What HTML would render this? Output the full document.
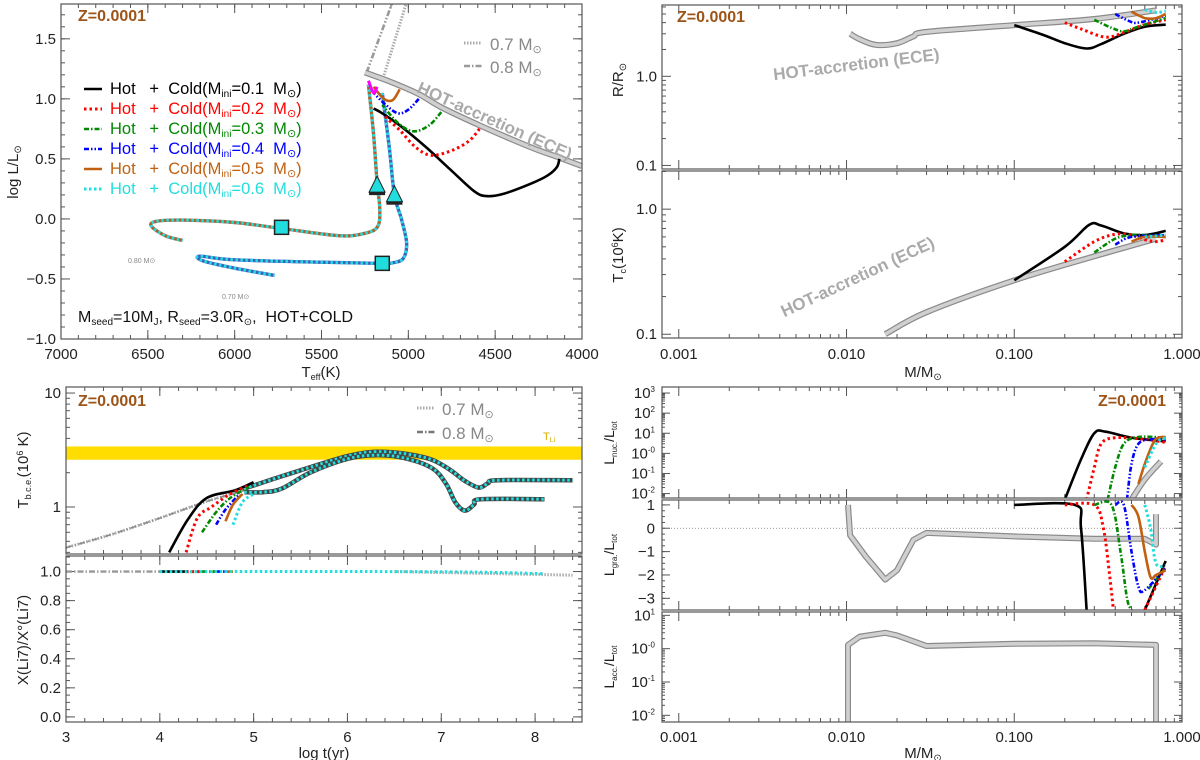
<!DOCTYPE html>
<html><head><meta charset="utf-8">
<style>
html,body{margin:0;padding:0;background:#fff;}
svg{display:block;font-family:"Liberation Sans",sans-serif;}
</style></head>
<body>
<svg id="fig" width="1200" height="760" viewBox="0 0 1200 760" xmlns="http://www.w3.org/2000/svg"></svg>
<script>
// ---------------- DATA ----------------
const massLabels = ["0.1","0.2","0.3","0.4","0.5","0.6"];
// HR diagram (Teff, logL)
const hrHot   = [[5250,1.22],[5100,1.14],[4940,1.04],[4810,0.93],[4590,0.78],[4300,0.6],[4130,0.51],[4000,0.44]];
const hrBlack = [[4130,0.5],[4145,0.43],[4200,0.36],[4300,0.29],[4450,0.21],[4550,0.19],[4620,0.23],[4750,0.4],[4900,0.6],[5050,0.78],[5150,0.88],[5200,0.92]];
const hrRed   = [[4590,0.75],[4650,0.65],[4750,0.57],[4870,0.53],[4960,0.6],[5050,0.74],[5140,0.86]];
const hrGreen = [[4810,0.89],[4880,0.78],[4970,0.73],[5060,0.8],[5150,0.95]];
const hrBlue  = [[4940,1.0],[5000,0.91],[5060,0.88],[5130,0.95],[5200,1.05]];
const hrOrange= [[5050,1.08],[5090,0.99],[5140,1.0],[5200,1.1]];
const hrCyan  = [[5230,1.15],[5200,1.05],[5180,1.1]];
const hrTrack8 = [[5230,1.12],[5200,0.7],[5180,0.3],[5165,0.1],[5175,-0.06],[5250,-0.12],[5400,-0.14],[5730,-0.08],[6000,-0.03],[6300,-0.01],[6450,-0.02],[6480,-0.06],[6400,-0.14],[6300,-0.18]];
const hrTrack7 = [[5150,1.05],[5110,0.6],[5080,0.2],[5040,0.0],[5010,-0.2],[5030,-0.33],[5090,-0.365],[5150,-0.37],[5500,-0.36],[6000,-0.34],[6200,-0.31],[6180,-0.35],[6000,-0.41],[5770,-0.47]];
const hrGray8 = [[5240,1.22],[5080,1.85]];
const hrGray7 = [[5150,1.15],[5000,1.85]];
const hrTriangles = [[5180,0.24],[5080,0.16]];
const hrSquares = [[5730,-0.07],[5150,-0.37]];
// Radius vs mass
const rHot   = [[0.0105,3.0],[0.012,2.6],[0.015,2.25],[0.02,2.35],[0.025,2.8],[0.03,3.15],[0.1,3.75],[0.3,4.4],[0.7,5.5]];
const rBlack = [[0.1,3.75],[0.15,2.9],[0.2,2.35],[0.27,2.05],[0.33,2.3],[0.45,3.0],[0.6,3.6],[0.8,3.8]];
const rRed   = [[0.2,4.0],[0.25,3.4],[0.35,2.75],[0.45,3.1],[0.6,3.8],[0.8,4.3]];
const rGreen = [[0.3,4.3],[0.38,3.5],[0.45,3.2],[0.55,3.6],[0.8,4.5]];
const rBlue  = [[0.4,5.0],[0.48,4.2],[0.55,4.0],[0.8,4.8]];
const rOrange= [[0.5,5.3],[0.6,4.5],[0.7,4.5],[0.8,5.0]];
const rCyan  = [[0.6,5.6],[0.7,5.2],[0.8,5.4]];
// Central temperature vs mass
const tcHot   = [[0.017,0.1],[0.03,0.15],[0.1,0.27],[0.3,0.42],[0.7,0.58]];
const tcBlack = [[0.1,0.27],[0.2,0.5],[0.28,0.75],[0.33,0.74],[0.45,0.64],[0.6,0.62],[0.8,0.67]];
const tcRed   = [[0.2,0.38],[0.3,0.55],[0.4,0.63],[0.5,0.62],[0.6,0.57],[0.7,0.55],[0.8,0.57]];
const tcGreen = [[0.3,0.45],[0.4,0.58],[0.5,0.62],[0.6,0.62],[0.8,0.6]];
const tcBlue  = [[0.4,0.52],[0.5,0.6],[0.8,0.62]];
const tcOrange= [[0.5,0.55],[0.6,0.6],[0.8,0.6]];
const tcCyan  = [[0.6,0.6],[0.8,0.62]];
// Tbce vs log t
const tbGray  = [[3.0,0.44],[3.5,0.58],[4.0,0.8],[4.5,1.12],[4.9,1.4]];
const tbBlack = [[4.1,0.4],[4.3,0.78],[4.5,1.2],[4.8,1.4],[5.0,1.65]];
const tbRed   = [[4.28,0.4],[4.4,0.8],[4.55,1.0],[4.75,1.3],[4.95,1.55]];
const tbGreen = [[4.45,0.6],[4.6,0.9],[4.75,1.2],[4.95,1.5]];
const tbBlue  = [[4.6,0.7],[4.7,0.95],[4.85,1.3]];
const tbOrange= [[4.7,0.75],[4.78,1.05],[4.88,1.3]];
const tbCyan  = [[4.78,0.7],[4.88,1.1],[5.0,1.3]];
const tbTrackA= [[4.9,1.45],[5.2,1.75],[5.5,2.1],[6.0,2.8],[6.3,3.05],[6.6,2.95],[6.9,2.6],[7.1,2.1],[7.25,1.7],[7.4,1.48],[7.5,1.62],[7.6,1.72],[8.4,1.72]];
const tbTrackB= [[4.9,1.35],[5.1,1.35],[5.3,1.45],[5.6,2.0],[6.0,2.65],[6.3,2.85],[6.6,2.7],[6.9,2.2],[7.05,1.6],[7.15,1.1],[7.25,0.93],[7.35,1.05],[7.42,1.17],[8.1,1.17]];
const liBand = [2.6,3.4];
// Lithium
const liGray = [[3.0,1.0],[4.0,1.0]];
const liAll  = [[4.0,1.0],[6.5,1.0],[7.5,0.995],[8.1,0.985]];
const liTail = [[6.5,1.0],[8.4,0.975]];
// Lnuc / Ltot
const lnBlack = [[0.2,0.005],[0.25,0.5],[0.3,10],[0.35,12],[0.5,6],[0.8,4]];
const lnRed   = [[0.27,0.005],[0.3,0.2],[0.33,3],[0.4,6],[0.6,5],[0.8,3.5]];
const lnGreen = [[0.36,0.005],[0.4,0.2],[0.45,3],[0.55,6.5],[0.8,6]];
const lnBlue  = [[0.47,0.005],[0.5,0.3],[0.55,3],[0.65,5],[0.8,5]];
const lnOrange= [[0.55,0.03],[0.6,0.3],[0.67,3],[0.72,6],[0.8,6.5]];
const lnCyan  = [[0.6,0.2],[0.7,3],[0.8,6]];
const lnGray  = [[0.5,0.005],[0.6,0.05],[0.75,0.4]];
// Lgra / Ltot
const lgGray  = [[0.0102,1.0],[0.0105,-0.3],[0.013,-1.2],[0.017,-2.2],[0.02,-1.8],[0.025,-0.5],[0.03,-0.2],[0.1,-0.35],[0.3,-0.45],[0.6,-0.45],[0.7,-0.7],[0.7,0.6]];
const lgBlack = [[0.1,1],[0.23,1],[0.25,0],[0.27,-3.5]];
const lgBlack2= [[0.6,-3.5],[0.8,-1.4]];
const lgRed   = [[0.2,1],[0.3,1],[0.34,0],[0.37,-2],[0.39,-3.5]];
const lgRed2  = [[0.6,-3.5],[0.8,-1.6]];
const lgGreen = [[0.3,1],[0.38,1],[0.43,-1],[0.47,-3],[0.5,-3.5]];
const lgGreen2= [[0.63,-2.6],[0.8,-1.7]];
const lgBlue  = [[0.4,1],[0.45,1],[0.5,-1],[0.55,-2.5],[0.6,-2.65],[0.8,-1.7]];
const lgOrange= [[0.5,1],[0.55,0.5],[0.6,-1],[0.65,-2.1],[0.7,-2],[0.8,-1.8]];
const lgCyan  = [[0.6,1],[0.65,0],[0.7,-1.5],[0.8,-1.6]];
// Lacc / Ltot
const laGray = [[0.0102,0.005],[0.0102,1.3],[0.012,2.3],[0.017,3.0],[0.02,2.5],[0.03,1.2],[0.1,1.4],[0.3,1.45],[0.7,1.3],[0.7,0.005]];

// ---------------- DRAWING ----------------
const NS="http://www.w3.org/2000/svg";
const svg=document.getElementById('fig');
function el(tag,attrs,parent){const e=document.createElementNS(NS,tag);for(const k in attrs)e.setAttribute(k,attrs[k]);(parent||svg).appendChild(e);return e;}
const L10=Math.log10;
function panel(x0,x1,y0,y1,xmin,xmax,ymin,ymax,xlog,ylog){
  const p={x0,x1,y0,y1};
  p.sx=v=>{const a=xlog?L10(v):v;return x0+(a-xmin)/(xmax-xmin)*(x1-x0);};
  p.sy=v=>{const a=ylog?L10(Math.max(v,1e-9)):v;return y1-(a-ymin)/(ymax-ymin)*(y1-y0);};
  return p;
}
const STY={
 black:{stroke:'#000',w:2.6,d:''},
 red:{stroke:'#f00',w:3,d:'2.5,3'},
 green:{stroke:'#080',w:2.6,d:'5,2,1.5,2'},
 blue:{stroke:'#00f',w:2.6,d:'5,2,1.5,2,1.5,2'},
 orange:{stroke:'#c06010',w:2.6,d:''},
 cyan:{stroke:'#2dd',w:3,d:'2.5,2.5'}
};
function pathD(P,smooth){
  if(!smooth||P.length<3)return P.map((q,i)=>(i?'L':'M')+q[0].toFixed(1)+','+q[1].toFixed(1)).join(' ');
  let d='M'+P[0][0].toFixed(1)+','+P[0][1].toFixed(1);
  for(let i=0;i<P.length-1;i++){
    const p0=P[Math.max(i-1,0)],p1=P[i],p2=P[i+1],p3=P[Math.min(i+2,P.length-1)];
    const c1=[p1[0]+(p2[0]-p0[0])/6,p1[1]+(p2[1]-p0[1])/6];
    const c2=[p2[0]-(p3[0]-p1[0])/6,p2[1]-(p3[1]-p1[1])/6];
    d+=' C'+c1[0].toFixed(1)+','+c1[1].toFixed(1)+' '+c2[0].toFixed(1)+','+c2[1].toFixed(1)+' '+p2[0].toFixed(1)+','+p2[1].toFixed(1);
  }
  return d;
}
function line(p,pts,sty,name,g,smooth){
  const P=pts.map(q=>[p.sx(q[0]),p.sy(q[1])]);
  const d=pathD(P,smooth!==false);
  const e=el('path',{d,fill:'none',stroke:sty.stroke,'stroke-width':sty.w,'stroke-dasharray':sty.d||'none','stroke-linejoin':'round','clip-path':'url(#'+p.clip+')'},g);
  
  
  return e;
}
function band(p,pts,name,g,smooth){
  line(p,pts,{stroke:'#8a8a8a',w:6,d:''},name+'-edge',g,smooth);
  line(p,pts,{stroke:'#d0d0d0',w:3.6,d:''},name,g,smooth);
}
let clipN=0;
function frame(p,name){
  const g=el('g',{});
  
  
  const defs=el('defs',{},g);
  const cp=el('clipPath',{id:'c'+(++clipN)},defs);
  el('rect',{x:p.x0,y:p.y0,width:p.x1-p.x0,height:p.y1-p.y0},cp);
  p.clip='c'+clipN;p.g=g;
  return g;
}
function box(p){el('rect',{x:p.x0,y:p.y0,width:p.x1-p.x0,height:p.y1-p.y0,fill:'none',stroke:'#555','stroke-width':1.2},p.g);}
function ticksX(p,vals,len){for(const v of vals){const x=p.sx(v);if(x<p.x0-0.5||x>p.x1+0.5)continue;
  el('line',{x1:x,x2:x,y1:p.y1,y2:p.y1-len,stroke:'#555','stroke-width':1},p.g);
  el('line',{x1:x,x2:x,y1:p.y0,y2:p.y0+len,stroke:'#555','stroke-width':1},p.g);}}
function ticksY(p,vals,len){for(const v of vals){const y=p.sy(v);if(y<p.y0-0.5||y>p.y1+0.5)continue;
  el('line',{y1:y,y2:y,x1:p.x0,x2:p.x0+len,stroke:'#555','stroke-width':1},p.g);
  el('line',{y1:y,y2:y,x1:p.x1,x2:p.x1-len,stroke:'#555','stroke-width':1},p.g);}}
function range(a,b,s){const r=[];for(let v=a;v<=b+1e-9;v+=s)r.push(+v.toFixed(6));return r;}
function logMinor(a,b){const r=[];for(let k=a;k<=b;k++)for(let m=2;m<=9;m++)r.push(m*Math.pow(10,k));return r;}
function logMajor(a,b){const r=[];for(let k=a;k<=b;k++)r.push(Math.pow(10,k));return r;}
function txt(x,y,s,opt,name){
  const e=el('text',Object.assign({x,y,'font-size':15,fill:'#222'},opt||{}),(opt&&opt.g)||svg);
  e.removeAttribute('g');
  e.innerHTML=s;
  
  
  return e;
}
const SUN='⊙';
const ZCOL='#9c5418';

// ===== Panel 1: HR diagram =====
const p1=panel(61,582,4,339,7000,4000,-1.0,1.79,false,false);
frame(p1,'hr-diagram-panel');
ticksX(p1,range(4000,7000,100),4);ticksX(p1,range(4000,7000,500),9);
ticksY(p1,range(-1,1.7,0.1),4);ticksY(p1,range(-1,1.5,0.5),9);
[7000,6500,6000,5500,5000,4500,4000].forEach(v=>txt(p1.sx(v),359,v,{'text-anchor':'middle',g:p1.g},'x-tick-label'));
[[-1,'−1.0'],[-0.5,'−0.5'],[0,'0.0'],[0.5,'0.5'],[1,'1.0'],[1.5,'1.5']].forEach(a=>txt(56,p1.sy(a[0])+5,a[1],{'text-anchor':'end',g:p1.g},'y-tick-label'));
txt(321,377,'T<tspan font-size="9" dy="3">eff</tspan><tspan dy="-3">(K)</tspan>',{'text-anchor':'middle',g:p1.g},'x-axis-title');
txt(18,172,'log L/L<tspan font-size="10" dy="3">'+SUN+'</tspan>',{'text-anchor':'middle',transform:'rotate(-90 18 172)',g:p1.g},'y-axis-title');
line(p1,hrGray8,{stroke:'#999',w:2.6,d:'6,2,1.5,2,1.5,2'},'track-0.8-gray',p1.g);
line(p1,hrGray7,{stroke:'#aaa',w:3,d:'1.5,1.5'},'track-0.7-gray',p1.g);
band(p1,hrHot,'hot-accretion-line',p1.g);
line(p1,hrTrack8,{stroke:'#b06030',w:3.4,d:''},'track-0.8-base',p1.g);
line(p1,hrTrack8,{stroke:'#2dd',w:3,d:'2.5,2.5'},'track-0.8',p1.g);
line(p1,hrTrack7,{stroke:'#4060c0',w:3.4,d:''},'track-0.7-base',p1.g);
line(p1,hrTrack7,{stroke:'#2dd',w:3,d:'2.5,2.5'},'track-0.7',p1.g);
line(p1,hrBlack,STY.black,'hr-0.1',p1.g);
line(p1,hrRed,STY.red,'hr-0.2',p1.g);
line(p1,hrGreen,STY.green,'hr-0.3',p1.g);
line(p1,hrBlue,STY.blue,'hr-0.4',p1.g);
line(p1,hrOrange,STY.orange,'hr-0.5',p1.g);
line(p1,hrCyan,{stroke:'#f0f',w:3,d:''},'hr-0.6',p1.g);
hrTriangles.forEach(q=>{const x=p1.sx(q[0]),y=p1.sy(q[1]);
 el('rect',{x:x-8,y:y+1,width:16,height:4,fill:'#222'},p1.g);
 const t=el('polygon',{points:`${x},${y-14} ${x-8},${y+2} ${x+8},${y+2}`,fill:'#2dd',stroke:'#222','stroke-width':1},p1.g);
 });
hrSquares.forEach(q=>{const x=p1.sx(q[0]),y=p1.sy(q[1]);
 const s=el('rect',{x:x-7,y:y-7,width:14,height:14,fill:'#2dd',stroke:'#222','stroke-width':1.5},p1.g);
 });
box(p1);
txt(78,21,'Z=0.0001',{fill:ZCOL,'font-weight':'bold','font-size':16,g:p1.g},'z-label');
const legCols=['#000','#f00','#080','#00f','#c06010','#2dd'];
const legSty=[STY.black,STY.red,STY.green,STY.blue,STY.orange,STY.cyan];
massLabels.forEach((m,i)=>{const y=94+i*20;
 const ln=el('line',{x1:84,x2:102,y1:y-5,y2:y-5,stroke:legSty[i].stroke,'stroke-width':legSty[i].w,'stroke-dasharray':legSty[i].d||'none'},p1.g);
 
 txt(110,y,'Hot&#160;&#160;&#160;+&#160;&#160;Cold(M<tspan font-size="10" dy="3">ini</tspan><tspan dy="-3">='+m+'&#160;&#160;M</tspan><tspan font-size="11" dy="3">'+SUN+'</tspan><tspan dy="-3">)</tspan>',{fill:legCols[i],'font-size':16.5,g:p1.g},'legend-entry');});
el('line',{x1:464,x2:482,y1:43,y2:43,stroke:'#aaa','stroke-width':3,'stroke-dasharray':'1.5,1.5'},p1.g);
el('line',{x1:464,x2:482,y1:66,y2:66,stroke:'#999','stroke-width':2.6,'stroke-dasharray':'6,2,1.5,2'},p1.g);
txt(490,50,'0.7 M<tspan font-size="11" dy="3">'+SUN+'</tspan>',{fill:'#888','font-size':17,g:p1.g},'legend-0.7');
txt(490,73,'0.8 M<tspan font-size="11" dy="3">'+SUN+'</tspan>',{fill:'#888','font-size':17,g:p1.g},'legend-0.8');
txt(416,92,'HOT-accretion (ECE)',{fill:'#aaa','font-weight':'bold','font-size':17,transform:'rotate(24 416 92)',g:p1.g},'hot-accretion-label');
txt(128,263,'0.80 M'+SUN,{fill:'#888','font-size':7,g:p1.g},'label-0.80');
txt(222,299,'0.70 M'+SUN,{fill:'#888','font-size':7,g:p1.g},'label-0.70');
txt(78,322,'M<tspan font-size="10" dy="3">seed</tspan><tspan dy="-3">=10M</tspan><tspan font-size="10" dy="3">J</tspan><tspan dy="-3">, R</tspan><tspan font-size="10" dy="3">seed</tspan><tspan dy="-3">=3.0R</tspan><tspan font-size="10" dy="3">'+SUN+'</tspan><tspan dy="-3">,&#160;&#160;HOT+COLD</tspan>',{fill:'#111','font-size':16,g:p1.g},'seed-params-label');

// ===== Right column x axis common =====
function massX(p,labels){
  ticksX(p,logMinor(-3,-1),4);ticksX(p,logMajor(-3,0),9);
  if(labels){[[0.001,'0.001'],[0.01,'0.010'],[0.1,'0.100'],[1,'1.000']].forEach(a=>txt(p.sx(a[0]),labels,a[1],{'text-anchor':'middle',g:p.g},'x-tick-label'));}
}
// ===== Panel 2: R =====
const p2=panel(662,1182,5,169,-3.1,0,-1.04,0.8,true,true);
frame(p2,'radius-panel');
massX(p2,0);ticksY(p2,logMinor(-2,0),4);ticksY(p2,logMajor(-1,0),9);
txt(657,p2.sy(1)+5,'1.0',{'text-anchor':'end',g:p2.g},'y-tick-label');
txt(657,p2.sy(0.1)+5,'0.1',{'text-anchor':'end',g:p2.g},'y-tick-label');
txt(623,80,'R/R<tspan font-size="10" dy="3">'+SUN+'</tspan>',{'text-anchor':'middle',transform:'rotate(-90 623 80)',g:p2.g},'y-axis-title');
band(p2,rHot,'hot-accretion-radius',p2.g);
[[rBlack,'black'],[rRed,'red'],[rGreen,'green'],[rBlue,'blue'],[rOrange,'orange'],[rCyan,'cyan']].forEach((a,i)=>line(p2,a[0],STY[a[1]],'radius-'+massLabels[i],p2.g));
box(p2);
txt(677,22,'Z=0.0001',{fill:ZCOL,'font-weight':'bold','font-size':16,g:p2.g},'z-label');
txt(857,70,'HOT-accretion (ECE)',{fill:'#aaa','font-weight':'bold','font-size':17,transform:'rotate(-7 857 70)','text-anchor':'middle',g:p2.g},'hot-accretion-label');
// ===== Panel 3: Tc =====
const p3=panel(662,1182,171,338,-3.1,0,-1.03,0.305,true,true);
frame(p3,'central-temp-panel');
massX(p3,359);ticksY(p3,logMinor(-2,0),4);ticksY(p3,logMajor(-1,0),9);
txt(657,p3.sy(1)+5,'1.0',{'text-anchor':'end',g:p3.g},'y-tick-label');
txt(657,p3.sy(0.1)+5,'0.1',{'text-anchor':'end',g:p3.g},'y-tick-label');
txt(923,377,'M/M<tspan font-size="10" dy="3">'+SUN+'</tspan>',{'text-anchor':'middle',g:p3.g},'x-axis-title');
txt(623,255,'T<tspan font-size="9" dy="3">c</tspan><tspan dy="-3">(10</tspan><tspan font-size="9" dy="-5">6</tspan><tspan dy="5">K)</tspan>',{'text-anchor':'middle',transform:'rotate(-90 623 255)',g:p3.g},'y-axis-title');
band(p3,tcHot,'hot-accretion-tc',p3.g);
[[tcBlack,'black'],[tcRed,'red'],[tcGreen,'green'],[tcBlue,'blue'],[tcOrange,'orange'],[tcCyan,'cyan']].forEach((a,i)=>line(p3,a[0],STY[a[1]],'tc-'+massLabels[i],p3.g));
box(p3);
txt(860,282,'HOT-accretion (ECE)',{fill:'#aaa','font-weight':'bold','font-size':17,transform:'rotate(-25 860 282)','text-anchor':'middle',g:p3.g},'hot-accretion-label');

// ===== Panel 4: Tbce =====
const p4=panel(66,582,387,554,3,8.5,L10(0.387),L10(11.3),false,true);
frame(p4,'tbce-panel');
ticksX(p4,range(3,8.5,0.2),4);ticksX(p4,range(3,8,1),9);
ticksY(p4,logMinor(-1,0),4);ticksY(p4,logMajor(0,1),9);
txt(61,p4.sy(10)+5,'10',{'text-anchor':'end',g:p4.g},'y-tick-label');
txt(61,p4.sy(1)+5,'1',{'text-anchor':'end',g:p4.g},'y-tick-label');
txt(28,470,'T<tspan font-size="9" dy="3">b.c.e.</tspan><tspan dy="-3">(10</tspan><tspan font-size="9" dy="-5">6</tspan><tspan dy="5"> K)</tspan>',{'text-anchor':'middle',transform:'rotate(-90 28 470)',g:p4.g},'y-axis-title');
const bnd=el('rect',{x:p4.x0,y:p4.sy(liBand[1]),width:p4.x1-p4.x0,height:p4.sy(liBand[0])-p4.sy(liBand[1]),fill:'#ffdd00'},p4.g);

line(p4,tbGray,{stroke:'#aaa',w:3,d:'1.5,1.5'},'tbce-gray-0.7',p4.g);
line(p4,tbGray,{stroke:'#888',w:1.5,d:'6,3,1.5,3'},'tbce-gray-0.8',p4.g);
[tbTrackA,tbTrackB].forEach((t,i)=>{line(p4,t,{stroke:'#444',w:4.5,d:''},'tbce-track-base',p4.g);line(p4,t,{stroke:'#2dd',w:3,d:'2.5,2.5'},'tbce-track-'+(i?'0.7':'0.8'),p4.g);});
[[tbBlack,'black'],[tbRed,'red'],[tbGreen,'green'],[tbBlue,'blue'],[tbOrange,'orange'],[tbCyan,'cyan']].forEach((a,i)=>line(p4,a[0],STY[a[1]],'tbce-'+massLabels[i],p4.g));
box(p4);
txt(78,406,'Z=0.0001',{fill:ZCOL,'font-weight':'bold','font-size':16,g:p4.g},'z-label');
el('line',{x1:417,x2:435,y1:408,y2:408,stroke:'#aaa','stroke-width':3,'stroke-dasharray':'1.5,1.5'},p4.g);
el('line',{x1:417,x2:435,y1:432,y2:432,stroke:'#777','stroke-width':2.6,'stroke-dasharray':'6,2,1.5,2'},p4.g);
txt(442,415,'0.7 M<tspan font-size="11" dy="3">'+SUN+'</tspan>',{fill:'#888','font-size':17,g:p4.g},'legend-0.7');
txt(442,439,'0.8 M<tspan font-size="11" dy="3">'+SUN+'</tspan>',{fill:'#888','font-size':17,g:p4.g},'legend-0.8');
txt(543,440,'T<tspan font-size="7" dy="2">Li</tspan>',{fill:'#d4b000','font-size':11,g:p4.g},'t-li-label');
// ===== Panel 5: Lithium =====
const p5=panel(66,582,556,722,3,8.5,-0.035,1.107,false,false);
frame(p5,'lithium-panel');
ticksX(p5,range(3,8.5,0.2),4);ticksX(p5,range(3,8,1),9);
ticksY(p5,range(0,1.1,0.05),4);ticksY(p5,range(0,1,0.2),9);
[0,0.2,0.4,0.6,0.8,1.0].forEach(v=>txt(61,p5.sy(v)+5,v.toFixed(1),{'text-anchor':'end',g:p5.g},'y-tick-label'));
[3,4,5,6,7,8].forEach(v=>txt(p5.sx(v),742,v,{'text-anchor':'middle',g:p5.g},'x-tick-label'));
txt(324,758,'log t(yr)',{'text-anchor':'middle',g:p5.g},'x-axis-title');
txt(28,640,'X(Li7)/X°(Li7)',{'text-anchor':'middle',transform:'rotate(-90 28 640)',g:p5.g},'y-axis-title');
line(p5,liGray,{stroke:'#999',w:2.4,d:'6,2,1.5,2'},'li-gray',p5.g);
line(p5,liTail,{stroke:'#aaa',w:3,d:'1.5,1.5'},'li-tail',p5.g);
line(p5,[[4,1],[4.3,1]],STY.black,'li-0.1',p5.g);
line(p5,[[4.28,1],[4.45,1]],STY.red,'li-0.2',p5.g);
line(p5,[[4.45,1],[4.6,1]],STY.green,'li-0.3',p5.g);
line(p5,[[4.6,1],[4.7,1]],STY.blue,'li-0.4',p5.g);
line(p5,[[4.7,1],[4.78,1]],STY.orange,'li-0.5',p5.g);
line(p5,liAll,STY.cyan,'li-0.6',p5.g);
box(p5);
// ===== Panel 6: Lnuc =====
const p6=panel(662,1182,387,498,-3.1,0,-2.22,3.3,true,true);
frame(p6,'lnuc-panel');
massX(p6,0);ticksY(p6,logMinor(-3,2),3);ticksY(p6,logMajor(-2,3),8);
[3,2,1,0,-1,-2].forEach(k=>txt(655,p6.sy(Math.pow(10,k))+5,'10<tspan font-size="8" dy="-6">'+(k===0?'-0':(k<0?'-'+(-k):k))+'</tspan>',{'text-anchor':'end',g:p6.g},'y-tick-label'));
txt(614,443,'L<tspan font-size="8" dy="3">nuc.</tspan><tspan dy="-3">/L</tspan><tspan font-size="8" dy="3">tot</tspan>',{'text-anchor':'middle','font-size':14,transform:'rotate(-90 614 443)',g:p6.g},'y-axis-title');
band(p6,lnGray,'lnuc-gray',p6.g);
[[lnBlack,'black'],[lnRed,'red'],[lnGreen,'green'],[lnBlue,'blue'],[lnOrange,'orange'],[lnCyan,'cyan']].forEach((a,i)=>line(p6,a[0],STY[a[1]],'lnuc-'+massLabels[i],p6.g));
box(p6);
txt(1166,406,'Z=0.0001',{fill:ZCOL,'font-weight':'bold','font-size':16,'text-anchor':'end',g:p6.g},'z-label');
// ===== Panel 7: Lgra =====
const p7=panel(662,1182,500,610,-3.1,0,-3.5,1.21,true,false);
frame(p7,'lgra-panel');
massX(p7,0);ticksY(p7,range(-3.5,1.2,0.25),3);ticksY(p7,range(-3,1,1),8);
[1,0,-1,-2,-3].forEach(v=>txt(655,p7.sy(v)+5,v<0?'−'+(-v):v,{'text-anchor':'end',g:p7.g},'y-tick-label'));
txt(614,555,'L<tspan font-size="8" dy="3">gra.</tspan><tspan dy="-3">/L</tspan><tspan font-size="8" dy="3">tot</tspan>',{'text-anchor':'middle','font-size':14,transform:'rotate(-90 614 555)',g:p7.g},'y-axis-title');
const zl=el('line',{x1:p7.x0,x2:p7.x1,y1:p7.sy(0),y2:p7.sy(0),stroke:'#777','stroke-width':0.8,'stroke-dasharray':'1,2'},p7.g);

band(p7,lgGray,'lgra-gray',p7.g,false);
[[lgBlack,'black'],[lgBlack2,'black'],[lgRed,'red'],[lgRed2,'red'],[lgGreen,'green'],[lgGreen2,'green'],[lgBlue,'blue'],[lgOrange,'orange'],[lgCyan,'cyan']].forEach((a,i)=>line(p7,a[0],STY[a[1]],'lgra-'+a[1],p7.g));
box(p7);
// ===== Panel 8: Lacc =====
const p8=panel(662,1182,612,722,-3.1,0,-2.2,1.1,true,true);
frame(p8,'lacc-panel');
massX(p8,742);ticksY(p8,logMinor(-3,0),3);ticksY(p8,logMajor(-2,1),8);
[1,0,-1,-2].forEach(k=>txt(655,p8.sy(Math.pow(10,k))+5,'10<tspan font-size="8" dy="-6">'+(k===0?'-0':(k<0?'-'+(-k):k))+'</tspan>',{'text-anchor':'end',g:p8.g},'y-tick-label'));
txt(614,667,'L<tspan font-size="8" dy="3">acc.</tspan><tspan dy="-3">/L</tspan><tspan font-size="8" dy="3">tot</tspan>',{'text-anchor':'middle','font-size':14,transform:'rotate(-90 614 667)',g:p8.g},'y-axis-title');
band(p8,laGray,'lacc-gray',p8.g,false);
box(p8);
txt(923,758,'M/M<tspan font-size="10" dy="3">'+SUN+'</tspan>',{'text-anchor':'middle',g:p8.g},'x-axis-title');
</script>
</body></html>
